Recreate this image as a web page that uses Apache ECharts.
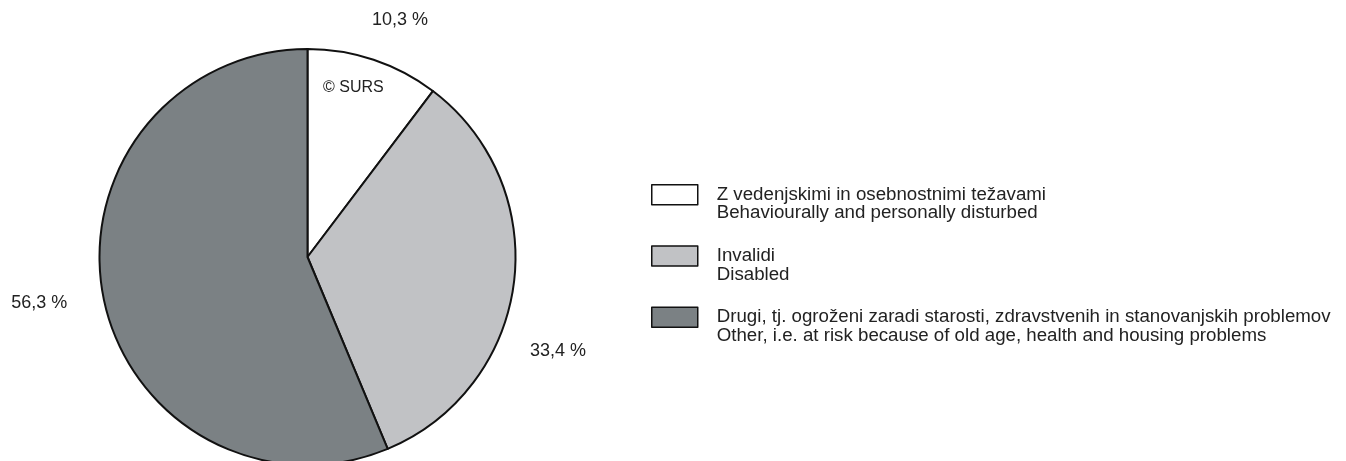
<!DOCTYPE html>
<html>
<head>
<meta charset="utf-8">
<script src="https://cdn.jsdelivr.net/npm/echarts@6/dist/echarts.min.js"></script>
<style>
html,body{margin:0;padding:0;background:#fff;}
#chart{width:1346px;height:461px;}
</style>
</head>
<body>
<div id="chart"></div>
<script>
// ---- data ----
const namesSl = [
  'Z vedenjskimi in osebnostnimi težavami',
  'Invalidi',
  'Drugi, tj. ogroženi zaradi starosti, zdravstvenih in stanovanjskih problemov'
];
const namesEn = [
  'Behaviourally and personally disturbed',
  'Disabled',
  'Other, i.e. at risk because of old age, health and housing problems'
];
const values = [10.3, 33.4, 56.3];
const sourceNote = '© SURS';

// ---- style ----
const colors = ['#ffffff', '#c1c2c5', '#7b8184'];
const center = [307.5, 257];
const radius = 208;
// label placement: angular shift (deg) from slice mid-angle and distance from centre
const labelAngleShift = [2.8, 13.4, 1.7];
const labelDist = [254, 267.5, 272];
// legend icon: 46x20 box aligned to the first text line (path bbox spans two lines)
const legendIcon = 'path://M0,0L46,0L46,20L0,20Z M0,38.7L0,38.7';

const total = values.reduce((a, b) => a + b, 0);
const midAngles = [];
let cum = 0;
values.forEach(v => { midAngles.push((cum + v / 2) / total * 360); cum += v; });

const fmt = v => v.toFixed(1).replace('.', ',') + ' %';
const FONT = '"Liberation Sans", Arial, sans-serif';

const chart = echarts.init(document.getElementById('chart'), null, {renderer: 'canvas'});
const option = {
  animation: false,
  backgroundColor: '#ffffff',
  textStyle: {fontFamily: FONT},
  legend: {
    orient: 'vertical',
    left: 651,
    top: 184,
    padding: 0,
    itemWidth: 46,
    itemHeight: 38.7,
    itemGap: 21,
    selectedMode: false,
    icon: legendIcon,
    itemStyle: {borderColor: '#111', borderWidth: 1.5},
    textStyle: {
      fontSize: 18.7,
      lineHeight: 18.5,
      color: '#222',
      padding: [0, 0, 0, 14]
    },
    formatter: name => {
      const i = namesSl.indexOf(name);
      return name + '\n' + namesEn[i];
    },
    data: namesSl
  },
  graphic: [{
    type: 'text',
    left: 323,
    top: 80,
    z: 100,
    style: {text: sourceNote, fontSize: 16, fill: '#222', font: '16px ' + FONT}
  }],
  series: [{
    type: 'pie',
    center: center,
    radius: radius,
    startAngle: 90,
    clockwise: true,
    avoidLabelOverlap: false,
    silent: true,
    emphasis: {disabled: true},
    itemStyle: {borderColor: '#111', borderWidth: 2},
    label: {
      show: true,
      position: 'outside',
      fontSize: 18,
      color: '#222',
      formatter: p => fmt(p.value)
    },
    labelLine: {show: false, length: 20, length2: 0},
    labelLayout: params => {
      const i = params.dataIndex;
      const a = (midAngles[i] + labelAngleShift[i]) * Math.PI / 180;
      return {
        x: center[0] + labelDist[i] * Math.sin(a),
        y: center[1] - labelDist[i] * Math.cos(a),
        align: 'center',
        verticalAlign: 'middle'
      };
    },
    data: values.map((v, i) => ({
      name: namesSl[i],
      value: v,
      itemStyle: {color: colors[i]}
    }))
  }]
};
chart.setOption(option);
</script>
</body>
</html>
